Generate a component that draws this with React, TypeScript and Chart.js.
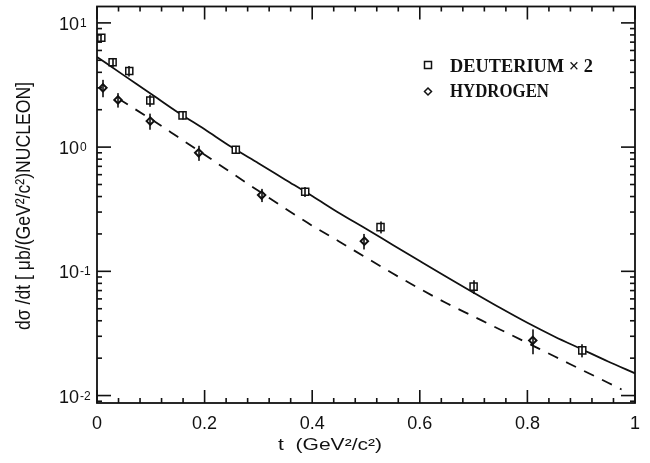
import React, { useEffect, useRef } from "react";
import { Chart, registerables } from "chart.js";

Chart.register(...registerables);

// ---------------- data ----------------
const deuteriumT = [0.008, 0.029, 0.06, 0.099, 0.159, 0.258, 0.387, 0.527, 0.7, 0.902];
const deuteriumSigma = [7.6, 4.82, 4.1, 2.37, 1.8, 0.952, 0.437, 0.227, 0.0753, 0.0231];
const deuteriumErr = [0.45, 0.4, 0.4, 0.26, 0.13, 0.07, 0.04, 0.025, 0.0095, 0.0028];

const hydrogenT = [0.011, 0.039, 0.099, 0.189, 0.306, 0.497, 0.81];
const hydrogenSigma = [3.0, 2.4, 1.62, 0.9, 0.411, 0.175, 0.0278];
const hydrogenErr = [0.48, 0.32, 0.24, 0.125, 0.05, 0.025, 0.0063];

const deutCurveT = [0, 0.05, 0.1, 0.15, 0.2, 0.25, 0.3, 0.35, 0.4, 0.45, 0.5, 0.55, 0.6, 0.65, 0.7, 0.75, 0.8, 0.85, 0.9, 0.95, 1.0];
const deutCurveSigma = [5.32, 3.78, 2.69, 1.91, 1.39, 1.0, 0.741, 0.547, 0.404, 0.295, 0.22, 0.163, 0.121, 0.09, 0.0673, 0.0506, 0.0385, 0.0299, 0.0237, 0.0188, 0.0151];

const hydCurveT = [0.04, 0.1, 0.15, 0.2, 0.25, 0.3, 0.35, 0.4, 0.45, 0.5, 0.55, 0.6, 0.65, 0.7, 0.75, 0.8, 0.85, 0.9, 0.975];
const hydCurveSigma = [2.45, 1.68, 1.21, 0.869, 0.62, 0.445, 0.32, 0.233, 0.174, 0.129, 0.096, 0.0724, 0.0553, 0.0433, 0.0339, 0.0265, 0.0207, 0.0162, 0.0112];

const xTickValues = [0, 0.2, 0.4, 0.6, 0.8, 1];
const xTickLabels = ["0", "0.2", "0.4", "0.6", "0.8", "1"];
const yDecadeValues = [0.01, 0.1, 1, 10];
const yDecadeExponents = ["-2", "-1", "0", "1"];
const legendLabels = ["DEUTERIUM \u00d7 2", "HYDROGEN"];
const xTitle = "t  (GeV\u00b2/c\u00b2)";
const yTitle = "d\u03c3 /dt [ \u03bcb/(GeV\u00b2/c\u00b2)NUCLEON]";

const X_MIN = 0;
const X_MAX = 1;
const Y_MIN = 0.00871;
const Y_MAX = 13.55;

const SANS = '"Liberation Sans", Arial, Helvetica, sans-serif';
const SERIF = '"Liberation Serif", "Times New Roman", serif';
const INK = "#111111";

function fitText(
  ctx: CanvasRenderingContext2D,
  text: string,
  x: number,
  y: number,
  width: number,
  font: string,
  align: CanvasTextAlign,
  rotate = false
) {
  ctx.save();
  ctx.font = font;
  const w = ctx.measureText(text).width || 1;
  ctx.translate(x, y);
  if (rotate) ctx.rotate(-Math.PI / 2);
  ctx.scale(width / w, 1);
  ctx.textAlign = align;
  ctx.textBaseline = "middle";
  ctx.fillStyle = INK;
  ctx.fillText(text, 0, 0);
  ctx.restore();
}

const paperPlugin = {
  id: "paperPlugin",
  beforeDraw(chart: any) {
    const ctx = chart.ctx as CanvasRenderingContext2D;
    ctx.save();
    ctx.fillStyle = "#ffffff";
    ctx.fillRect(0, 0, chart.width, chart.height);
    ctx.restore();
  },
  afterDatasetsDraw(chart: any) {
    const ctx = chart.ctx as CanvasRenderingContext2D;
    const xs = chart.scales.x;
    const ys = chart.scales.y;
    ctx.save();
    ctx.fillStyle = INK;
    const bars = (ts: number[], vs: number[], es: number[]) => {
      ts.forEach((t, i) => {
        const px = Math.round(xs.getPixelForValue(t));
        const y1 = ys.getPixelForValue(vs[i] + es[i]);
        const y2 = ys.getPixelForValue(vs[i] - es[i]);
        ctx.fillRect(px - 0.8, y1, 1.6, y2 - y1);
      });
    };
    bars(deuteriumT, deuteriumSigma, deuteriumErr);
    bars(hydrogenT, hydrogenSigma, hydrogenErr);
    ctx.restore();
  },
  afterDraw(chart: any) {
    const ctx = chart.ctx as CanvasRenderingContext2D;
    const a = chart.chartArea;
    const xs = chart.scales.x;
    const ys = chart.scales.y;
    ctx.save();
    ctx.fillStyle = INK;

    // inward ticks on all four sides
    const tw = 1.6;
    for (let k = 0; k <= 25; k++) {
      const v = k * 0.04;
      const len = k % 5 === 0 ? 13 : 5;
      const px = xs.getPixelForValue(v);
      ctx.fillRect(px - tw / 2, a.bottom - len, tw, len);
      ctx.fillRect(px - tw / 2, a.top, tw, len);
    }
    const decades = [0.001, 0.01, 0.1, 1, 10];
    for (const d of decades) {
      for (let m = 1; m <= 9; m++) {
        const v = d * m;
        if (v < Y_MIN || v > Y_MAX) continue;
        const len = m === 1 ? 14 : 5;
        const py = ys.getPixelForValue(v);
        ctx.fillRect(a.left, py - tw / 2, len, tw);
        ctx.fillRect(a.right - len, py - tw / 2, len, tw);
      }
    }

    ctx.strokeStyle = INK;
    ctx.lineWidth = 1.8;
    ctx.strokeRect(a.left, a.top, a.right - a.left, a.bottom - a.top);

    // y decade labels with superscript exponents
    yDecadeValues.forEach((v, i) => {
      const py = ys.getPixelForValue(v) + 2;
      ctx.font = `18px ${SANS}`;
      ctx.textAlign = "right";
      ctx.textBaseline = "middle";
      ctx.fillText("10", 79, py);
      ctx.font = `12px ${SANS}`;
      ctx.textAlign = "left";
      ctx.textBaseline = "alphabetic";
      ctx.fillText(yDecadeExponents[i], 80, py + 2);
    });

    // axis titles
    fitText(ctx, xTitle, 278, 446, 104, `16px ${SANS}`, "left");
    fitText(ctx, yTitle, 24, 206, 248, `20px ${SANS}`, "center", true);

    // legend
    ctx.lineWidth = 1.5;
    ctx.strokeRect(424.5, 61.5, 7, 7);
    ctx.beginPath();
    ctx.moveTo(428, 88);
    ctx.lineTo(431.5, 91.5);
    ctx.lineTo(428, 95);
    ctx.lineTo(424.5, 91.5);
    ctx.closePath();
    ctx.stroke();
    fitText(ctx, legendLabels[0], 450, 67, 143, `bold 18px ${SERIF}`, "left");
    fitText(ctx, legendLabels[1], 450, 92, 99, `bold 18px ${SERIF}`, "left");
    ctx.restore();
  },
};

export default function App() {
  const canvasRef = useRef<HTMLCanvasElement | null>(null);

  useEffect(() => {
    const canvas = canvasRef.current;
    if (!canvas) return;
    const chart = new Chart(canvas, {
      type: "scatter",
      data: {
        datasets: [
          {
            label: legendLabels[0],
            data: deuteriumT.map((t, i) => ({ x: t, y: deuteriumSigma[i] })),
            pointStyle: "rect",
            pointRadius: 5,
            pointBorderWidth: 1.5,
            pointBackgroundColor: "#ffffff",
            pointBorderColor: INK,
            showLine: false,
          },
          {
            label: legendLabels[1],
            data: hydrogenT.map((t, i) => ({ x: t, y: hydrogenSigma[i] })),
            pointStyle: "rectRot",
            pointRadius: 3.7,
            pointBorderWidth: 2,
            pointBackgroundColor: "#ffffff",
            pointBorderColor: INK,
            showLine: false,
          },
          {
            type: "line",
            label: "deuterium fit",
            data: deutCurveT.map((t, i) => ({ x: t, y: deutCurveSigma[i] })),
            borderColor: INK,
            borderWidth: 1.8,
            pointRadius: 0,
            showLine: true,
            fill: false,
            cubicInterpolationMode: "monotone",
          } as any,
          {
            type: "line",
            label: "hydrogen fit",
            data: hydCurveT.map((t, i) => ({ x: t, y: hydCurveSigma[i] })),
            borderColor: INK,
            borderWidth: 1.8,
            borderDash: [11, 9],
            pointRadius: 0,
            showLine: true,
            fill: false,
            cubicInterpolationMode: "monotone",
          } as any,
        ],
      },
      options: {
        responsive: false,
        animation: false,
        devicePixelRatio: 1,
        layout: { padding: { left: 0, right: 10, top: 4, bottom: 0 } },
        plugins: {
          legend: { display: false },
          tooltip: { enabled: false },
          title: { display: false },
        },
        scales: {
          x: {
            type: "linear",
            position: "bottom",
            min: X_MIN,
            max: X_MAX,
            grid: { display: false, drawTicks: false },
            border: { display: false },
            afterBuildTicks: (scale: any) => {
              scale.ticks = xTickValues.map((v) => ({ value: v }));
            },
            afterFit: (scale: any) => {
              scale.height = 60;
            },
            ticks: {
              padding: 10,
              color: INK,
              font: { family: SANS, size: 18 },
              maxRotation: 0,
              autoSkip: false,
              callback: (_v: any, i: number) => xTickLabels[i],
            },
          },
          y: {
            type: "logarithmic",
            position: "left",
            min: Y_MIN,
            max: Y_MAX,
            grid: { display: false, drawTicks: false },
            border: { display: false },
            ticks: { display: false },
            afterFit: (scale: any) => {
              scale.width = 97;
            },
          },
        },
      } as any,
      plugins: [paperPlugin],
    });
    return () => chart.destroy();
  }, []);

  return (
    <div style={{ position: "absolute", left: 0, top: 0, width: 650, height: 463, background: "#fff" }}>
      <canvas ref={canvasRef} width={650} height={463} style={{ display: "block" }} />
    </div>
  );
}
